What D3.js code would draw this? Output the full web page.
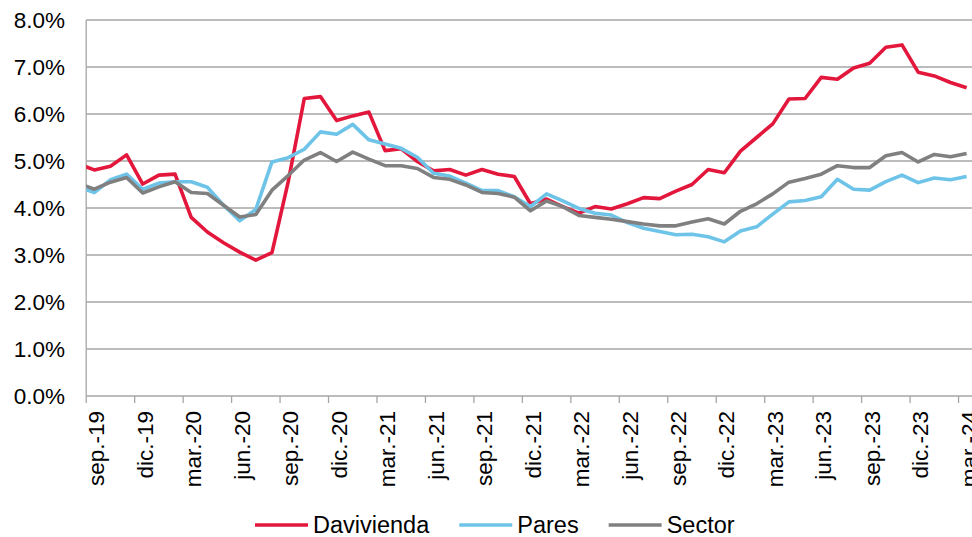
<!DOCTYPE html>
<html>
<head>
<meta charset="utf-8">
<script src="https://cdn.jsdelivr.net/npm/d3@7"></script>
<style>
  body { margin: 0; background: #fff; }
  svg { display: block; font-family: "Liberation Sans", Arial, sans-serif; }
</style>
</head>
<body>
<div id="chart"></div>
<script>
// Months (first one only shows as the clipped segment at the left edge)
const months = ['ago.-19',
  'sep.-19','oct.-19','nov.-19','dic.-19',
  'ene.-20','feb.-20','mar.-20','abr.-20','may.-20','jun.-20','jul.-20','ago.-20','sep.-20','oct.-20','nov.-20','dic.-20',
  'ene.-21','feb.-21','mar.-21','abr.-21','may.-21','jun.-21','jul.-21','ago.-21','sep.-21','oct.-21','nov.-21','dic.-21',
  'ene.-22','feb.-22','mar.-22','abr.-22','may.-22','jun.-22','jul.-22','ago.-22','sep.-22','oct.-22','nov.-22','dic.-22',
  'ene.-23','feb.-23','mar.-23','abr.-23','may.-23','jun.-23','jul.-23','ago.-23','sep.-23','oct.-23','nov.-23','dic.-23',
  'ene.-24','feb.-24','mar.-24'];

const davivienda = [4.94,
  4.81, 4.89, 5.13, 4.51,
  4.70, 4.72, 3.80, 3.49, 3.26, 3.06, 2.89, 3.05, 4.55, 6.33, 6.37, 5.86,
  5.96, 6.04, 5.22, 5.26, 4.99, 4.79, 4.82, 4.70, 4.82, 4.72, 4.67, 4.09,
  4.19, 4.03, 3.89, 4.03, 3.98, 4.09, 4.22, 4.20, 4.36, 4.50, 4.82, 4.75,
  5.21, 5.50, 5.79, 6.32, 6.33, 6.78, 6.74, 6.98, 7.08, 7.42, 7.47, 6.89,
  6.81, 6.67, 6.56];

const pares = [4.45,
  4.33, 4.60, 4.72, 4.40,
  4.53, 4.56, 4.56, 4.44, 4.06, 3.73, 3.97, 4.98, 5.07, 5.25, 5.62, 5.57,
  5.78, 5.45, 5.36, 5.27, 5.08, 4.74, 4.68, 4.53, 4.37, 4.37, 4.24, 4.03,
  4.30, 4.15, 3.99, 3.89, 3.85, 3.69, 3.57, 3.50, 3.43, 3.44, 3.39, 3.28,
  3.51, 3.60, 3.87, 4.13, 4.16, 4.24, 4.61, 4.40, 4.38, 4.56, 4.70, 4.54,
  4.64, 4.60, 4.67];

const sector = [4.53,
  4.40, 4.55, 4.65, 4.32,
  4.45, 4.56, 4.33, 4.31, 4.06, 3.81, 3.86, 4.38, 4.69, 5.02, 5.18, 4.99,
  5.19, 5.04, 4.90, 4.90, 4.84, 4.65, 4.61, 4.49, 4.33, 4.31, 4.23, 3.94,
  4.15, 4.03, 3.84, 3.80, 3.76, 3.71, 3.66, 3.62, 3.62, 3.70, 3.77, 3.66,
  3.93, 4.09, 4.30, 4.55, 4.63, 4.72, 4.90, 4.86, 4.86, 5.11, 5.18, 4.98,
  5.14, 5.09, 5.16];

const yTicks = [0, 1, 2, 3, 4, 5, 6, 7, 8];

const series = [
  { name: 'Davivienda', values: davivienda, color: '#E3173C' },
  { name: 'Pares', values: pares, color: '#6EC4E8' },
  { name: 'Sector', values: sector, color: '#808080' }
];

const width = 972, height = 537;
const plotLeft = 86.2, plotTop = 20, plotBottom = 396;

const svg = d3.select('#chart').append('svg')
  .attr('width', width)
  .attr('height', height);

// x: month index, sep.-19 is index 1
const x = d3.scaleLinear()
  .domain([0.5, months.length - 0.5])
  .range([plotLeft, 974.7]);

const y = d3.scaleLinear()
  .domain([0, 8])
  .range([plotBottom, plotTop]);

// Gridlines
svg.append('g')
  .selectAll('line')
  .data(yTicks)
  .join('line')
  .attr('x1', plotLeft)
  .attr('x2', width)
  .attr('y1', d => y(d))
  .attr('y2', d => y(d))
  .attr('stroke', '#A6A6A6')
  .attr('stroke-width', 1.3);

// Y labels
svg.append('g')
  .selectAll('text')
  .data(yTicks)
  .join('text')
  .attr('x', 65)
  .attr('y', d => y(d))
  .attr('dy', '0.36em')
  .attr('text-anchor', 'end')
  .attr('font-size', 22.5)
  .attr('fill', '#000')
  .text(d => d.toFixed(1) + '%');

// Y axis line
svg.append('line')
  .attr('x1', plotLeft).attr('x2', plotLeft)
  .attr('y1', plotTop).attr('y2', plotBottom)
  .attr('stroke', '#A6A6A6')
  .attr('stroke-width', 1.3);

// X tick marks at category boundaries every 3 months
const tickPos = d3.range(0.5, months.length - 1, 3);
svg.append('g')
  .selectAll('line')
  .data(tickPos)
  .join('line')
  .attr('x1', d => x(d)).attr('x2', d => x(d))
  .attr('y1', plotBottom).attr('y2', plotBottom + 7)
  .attr('stroke', '#A6A6A6')
  .attr('stroke-width', 1.3);

// X labels (rotated)
const labelIdx = d3.range(1, months.length, 3);
svg.append('g')
  .selectAll('text')
  .data(labelIdx)
  .join('text')
  .attr('transform', d => `translate(${x(d)},${plotBottom + 15}) rotate(-90)`)
  .attr('dy', '0.45em')
  .attr('text-anchor', 'end')
  .attr('font-size', 22.5)
  .attr('fill', '#000')
  .text(d => months[d]);

// Lines, clipped to the plot area
svg.append('clipPath').attr('id', 'plot-clip')
  .append('rect')
  .attr('x', plotLeft).attr('y', 0)
  .attr('width', width - plotLeft).attr('height', height);

const line = d3.line()
  .x((d, i) => x(i))
  .y(d => y(d));

svg.append('g')
  .attr('clip-path', 'url(#plot-clip)')
  .selectAll('path')
  .data(series)
  .join('path')
  .attr('d', d => line(d.values))
  .attr('fill', 'none')
  .attr('stroke', d => d.color)
  .attr('stroke-width', 3.6)
  .attr('stroke-linejoin', 'round');

// Legend
const legend = svg.append('g').attr('transform', 'translate(255,525)');
let lx = 0;
series.forEach(s => {
  legend.append('line')
    .attr('x1', lx).attr('x2', lx + 53)
    .attr('y1', 0).attr('y2', 0)
    .attr('stroke', s.color)
    .attr('stroke-width', 3.6);
  const t = legend.append('text')
    .attr('x', lx + 58)
    .attr('y', 0)
    .attr('dy', '0.34em')
    .attr('font-size', 23.5)
    .attr('fill', '#000')
    .text(s.name);
  lx += 58 + t.node().getComputedTextLength() + 30;
});
</script>
</body>
</html>
